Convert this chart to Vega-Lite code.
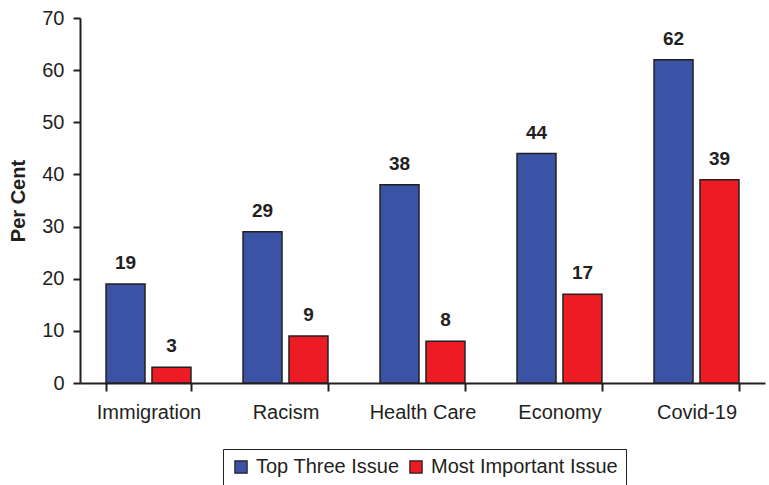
{
  "$schema": "https://vega.github.io/schema/vega-lite/v6.json",
  "width": 685,
  "height": 365,
  "autosize": "none",
  "padding": {"left": 80, "top": 18, "right": 4, "bottom": 102},
  "background": "white",
  "config": {
    "view": {"stroke": null},
    "font": "Liberation Sans",
    "text": {"font": "Liberation Sans"}
  },
  "data": {
    "values": [
      {"issue": "Immigration", "series": "Top Three Issue", "value": 19},
      {"issue": "Immigration", "series": "Most Important Issue", "value": 3},
      {"issue": "Racism", "series": "Top Three Issue", "value": 29},
      {"issue": "Racism", "series": "Most Important Issue", "value": 9},
      {"issue": "Health Care", "series": "Top Three Issue", "value": 38},
      {"issue": "Health Care", "series": "Most Important Issue", "value": 8},
      {"issue": "Economy", "series": "Top Three Issue", "value": 44},
      {"issue": "Economy", "series": "Most Important Issue", "value": 17},
      {"issue": "Covid-19", "series": "Top Three Issue", "value": 62},
      {"issue": "Covid-19", "series": "Most Important Issue", "value": 39}
    ]
  },
  "encoding": {
    "x": {
      "field": "issue",
      "type": "nominal",
      "sort": ["Immigration", "Racism", "Health Care", "Economy", "Covid-19"],
      "scale": {"paddingInner": 0.38, "paddingOuter": 0.19},
      "axis": {
        "title": null,
        "labelAngle": 0,
        "labelFontSize": 20,
        "labelColor": "#231F20",
        "labelPadding": 11,
        "tickBand": "extent",
        "tickSize": 8,
        "tickWidth": 2,
        "tickColor": "#231F20",
        "domainColor": "#231F20",
        "domainWidth": 2
      }
    },
    "xOffset": {
      "field": "series",
      "type": "nominal",
      "sort": ["Top Three Issue", "Most Important Issue"],
      "scale": {"paddingInner": 0.152, "paddingOuter": 0}
    },
    "y": {
      "field": "value",
      "type": "quantitative",
      "scale": {"domain": [0, 70]},
      "axis": {
        "title": "Per Cent",
        "titleFontSize": 20,
        "titleFontWeight": "bold",
        "titleColor": "#231F20",
        "titlePadding": 13,
        "values": [0, 10, 20, 30, 40, 50, 60, 70],
        "grid": false,
        "labelFontSize": 20,
        "labelColor": "#231F20",
        "labelPadding": 9,
        "tickSize": 7,
        "tickWidth": 2,
        "tickColor": "#231F20",
        "domainColor": "#231F20",
        "domainWidth": 2
      }
    }
  },
  "layer": [
    {
      "mark": {"type": "bar", "stroke": "#231F20", "strokeWidth": 1.5},
      "encoding": {
        "color": {
          "field": "series",
          "type": "nominal",
          "sort": ["Top Three Issue", "Most Important Issue"],
          "scale": {"domain": ["Top Three Issue", "Most Important Issue"], "range": ["#3A53A4", "#ED1C24"]},
          "legend": {
            "title": null,
            "orient": "none",
            "legendX": 143,
            "legendY": 431,
            "direction": "horizontal",
            "symbolType": "square",
            "symbolSize": 150,
            "symbolStrokeColor": "#231F20",
            "symbolStrokeWidth": 1.2,
            "symbolOpacity": 1,
            "labelFontSize": 20,
            "labelLimit": 0,
            "labelColor": "#231F20",
            "labelOffset": 5,
            "columnPadding": 6,
            "strokeColor": "#231F20",
            "padding": 8
          }
        }
      }
    },
    {
      "mark": {"type": "text", "fontWeight": "bold", "fontSize": 19, "baseline": "alphabetic", "dy": -15, "color": "#231F20"},
      "encoding": {
        "text": {"field": "value", "type": "quantitative"}
      }
    }
  ]
}
